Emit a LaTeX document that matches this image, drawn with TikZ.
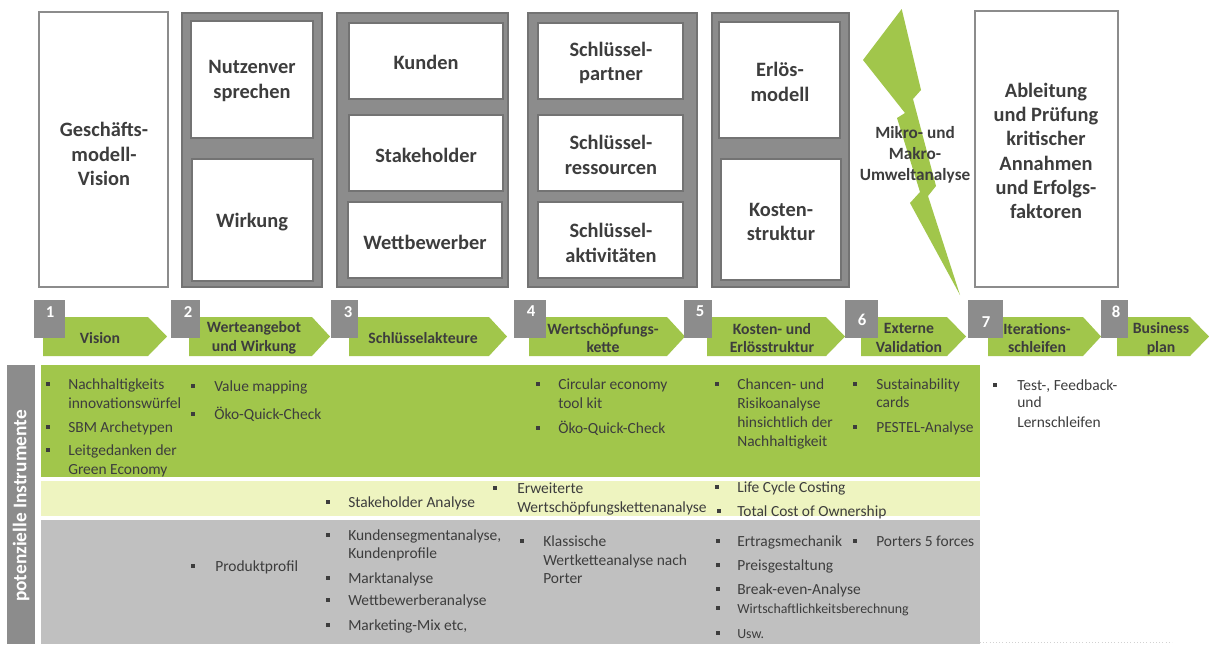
\documentclass[tikz,border=0pt]{standalone}
\usepackage{fontspec}
\setmainfont{Carlito}
\definecolor{grn}{HTML}{A1C64B}
\definecolor{ylw}{HTML}{EEF4C0}
\definecolor{lgry}{HTML}{C0C0C0}
\definecolor{dgry}{HTML}{8C8C8C}
\definecolor{frm}{HTML}{737373}
\definecolor{txt}{HTML}{3D3D3D}
\newcommand\chevron[3]{\fill[grn] (#1,317) -- (#2,317) -- (#3,336.5) -- (#2,356) -- (#1,356) -- cycle;}
\newcommand\numsq[2]{\fill[dgry] (#1,300) rectangle (#2,338);}
\newcommand\itm[5]{\node[bu] (#1b) at (#2,#4-4.8) {}; \node[it] (#1) at (#3,#4) {#5};}
\newcommand\cont[4]{\node[it] (#1) at (#2,#3) {#4};}
\begin{document}
\begin{tikzpicture}[x=0.75pt,y=-0.75pt,
 frame/.style={draw=frm,line width=1.3pt,fill=dgry},
 wbox/.style={draw=frm,line width=0.9pt,fill=white},
 obox/.style={draw=dgry,line width=1.3pt,fill=white},
 big/.style={font=\bfseries\fontsize{15.3}{18.2}\selectfont,align=center,text=txt,inner sep=0pt},
 stp/.style={font=\bfseries\fontsize{11.8}{14.2}\selectfont,align=center,text=txt,inner sep=0pt},
 num/.style={font=\bfseries\fontsize{12.5}{14}\selectfont,text=white,inner sep=0pt},
 it/.style={anchor=base west,inner sep=0pt,font=\fontsize{11.6}{14}\selectfont,text=txt},
 bu/.style={fill=txt,minimum size=3pt,inner sep=0pt,draw=none}
]
\useasboundingbox (0,0) rectangle (1209,644);
\fill[white] (0,0) rectangle (1209,644);

% ---------- top boxes ----------
\draw[obox] (39,12) rectangle (168,287);
\node[big] (vision) at (104,154) {Geschäfts-\\modell-\\Vision};

\draw[frame] (182,13) rectangle (322,287);
\draw[wbox] (191,21) rectangle (313,138);
\draw[wbox] (192,159) rectangle (313,281);
\node[big] (nutzen) at (252,81) {Nutzenver\\sprechen};
\node[big] (wirkung) at (252,222) {Wirkung};

\draw[frame] (337,13) rectangle (508,287);
\draw[wbox] (349,23) rectangle (503,99);
\draw[wbox] (349,115) rectangle (503,191);
\draw[wbox] (348,202) rectangle (502,278);
\node[big] (kunden) at (426,62) {Kunden};
\node[big] (stake) at (426,155) {Stakeholder};
\node[big] (wettb) at (425,242) {Wettbewerber};

\draw[frame] (528,13) rectangle (697,287);
\draw[wbox] (538,23) rectangle (683,99);
\draw[wbox] (538,115) rectangle (683,191);
\draw[wbox] (538,202) rectangle (683,278);
\node[big] (spart) at (611,63) {Schlüssel-\\partner};
\node[big] (sress) at (611,155) {Schlüssel-\\ressourcen};
\node[big] (sakt) at (611,243) {Schlüssel-\\aktivitäten};

\draw[frame] (712,13) rectangle (849,287);
\draw[wbox] (719,22) rectangle (840,138);
\draw[wbox] (721,159) rectangle (841,280);
\node[big] (erloes) at (780,82) {Erlös-\\modell};
\node[big] (kosten) at (781,222) {Kosten-\\struktur};

% lightning bolt
\fill[grn] (901.7,9) -- (921,90) -- (913,99) -- (936,186) -- (928,196) -- (960,295)
  -- (910,203) -- (920,192) -- (897,118) -- (905,113) -- (863,60) -- cycle;
\node[font=\bfseries\fontsize{12.9}{15.8}\selectfont,align=center,text=txt,inner sep=0pt] (umwelt) at (915,155) {Mikro- und\\Makro-\\Umweltanalyse};

\draw[obox] (975,11) rectangle (1118,287);
\node[big] (ableit) at (1046,151) {Ableitung\\und Prüfung\\kritischer\\Annahmen\\und Erfolgs-\\faktoren};

% ---------- step row ----------
\chevron{43}{148}{167}
\chevron{189}{312}{330}
\chevron{349}{489}{507}
\chevron{529}{667}{685}
\chevron{707}{826}{845}
\chevron{861}{947}{966}
\chevron{988}{1083}{1101}
\chevron{1117}{1190}{1209}
\numsq{34}{65}
\numsq{171}{200}
\numsq{331}{358}
\numsq{514}{546}
\numsq{684}{712}
\numsq{845}{878}
\numsq{968}{1003}
\numsq{1101}{1128}
\node[num] (n1) at (50,312) {1};
\node[num] (n2) at (188,312) {2};
\node[num] (n3) at (348,312) {3};
\node[num] (n4) at (531,311) {4};
\node[num] (n5) at (700,311) {5};
\node[num] (n6) at (862,320) {6};
\node[num] (n7) at (986,322) {7};
\node[num] (n8) at (1116,312) {8};
\node[stp] (s1) at (100,338) {Vision};
\node[stp] (s2) at (254,338) {Werteangebot\\und Wirkung};
\node[stp] (s3) at (423,338) {Schlüsselakteure};
\node[stp] (s4) at (603,338) {Wertschöpfungs-\\kette};
\node[stp] (s5) at (772,338) {Kosten- und\\Erlösstruktur};
\node[stp] (s6) at (909,338) {Externe\\Validation};
\node[stp] (s7) at (1037,338) {Iterations-\\schleifen};
\node[stp] (s8) at (1161,339) {Business\\plan};

% ---------- lower panels ----------
\fill[dgry] (7,365) rectangle (35,644);
\fill[grn] (41,365) rectangle (980,477);
\fill[ylw] (41,481) rectangle (980,516);
\fill[lgry] (41,520) rectangle (980,644);
\draw[gray!35,dotted] (980,642) -- (1172,642);
\node[rotate=90,font=\bfseries\fontsize{14.5}{16}\selectfont,text=white,inner sep=0pt] (vl) at (21,506) {potenzielle Instrumente};

% green row
\itm{a1}{48}{68}{389}{Nachhaltigkeits}
\cont{a1c}{68}{408}{innovationswürfel}
\itm{a2}{48}{68}{432}{SBM Archetypen}
\itm{a3}{48}{68}{455}{Leitgedanken der}
\cont{a3c}{68}{474}{Green Economy}
\itm{b1}{193}{214}{391}{Value mapping}
\itm{b2}{193}{214}{419}{Öko-Quick-Check}
\itm{d1}{538}{558}{389}{Circular economy}
\cont{d1c}{558}{408}{tool kit}
\itm{d2}{538}{558}{433}{Öko-Quick-Check}
\itm{e1}{717}{737}{389}{Chancen- und}
\cont{e1c}{737}{408}{Risikoanalyse}
\cont{e1d}{737}{427}{hinsichtlich der}
\cont{e1e}{737}{446}{Nachhaltigkeit}
\itm{f1}{855}{876}{389}{Sustainability}
\cont{f1c}{876}{407}{cards}
\itm{f2}{855}{876}{432}{PESTEL-Analyse}
\itm{g1}{995}{1017}{390}{Test-, Feedback-}
\cont{g1c}{1017}{407}{und}
\cont{g1d}{1017}{427}{Lernschleifen}

% yellow row
\itm{y1}{328}{348}{507}{Stakeholder Analyse}
\itm{y2}{495}{517}{493}{Erweiterte}
\cont{y2c}{517}{512}{Wertschöpfungskettenanalyse}
\itm{y3}{717}{737}{492}{Life Cycle Costing}
\itm{y4}{719}{737}{516}{Total Cost of Ownership}

% gray row
\itm{h1}{193}{215}{571}{Produktprofil}
\itm{c1}{328}{348}{540}{Kundensegmentanalyse,}
\cont{c1c}{348}{558}{Kundenprofile}
\itm{c2}{328}{348}{583}{Marktanalyse}
\itm{c3}{328}{348}{605}{Wettbewerberanalyse}
\itm{c4}{328}{348}{630}{Marketing-Mix etc,}
\itm{k1}{522}{543}{546}{Klassische}
\cont{k1c}{543}{565}{Wertketteanalyse nach}
\cont{k1d}{543}{583}{Porter}
\itm{m1}{718}{737}{546}{Ertragsmechanik}
\itm{m2}{718}{737}{570}{Preisgestaltung}
\itm{m3}{718}{737}{594}{Break-even-Analyse}
\itm{m4}{718}{737}{613}{\fontsize{10.4}{12}\selectfont Wirtschaftlichkeitsberechnung}
\itm{m5}{718}{737}{638}{\fontsize{10.4}{12}\selectfont Usw.}
\itm{p1}{855}{876}{546}{Porters 5 forces}
\end{tikzpicture}
\end{document}
